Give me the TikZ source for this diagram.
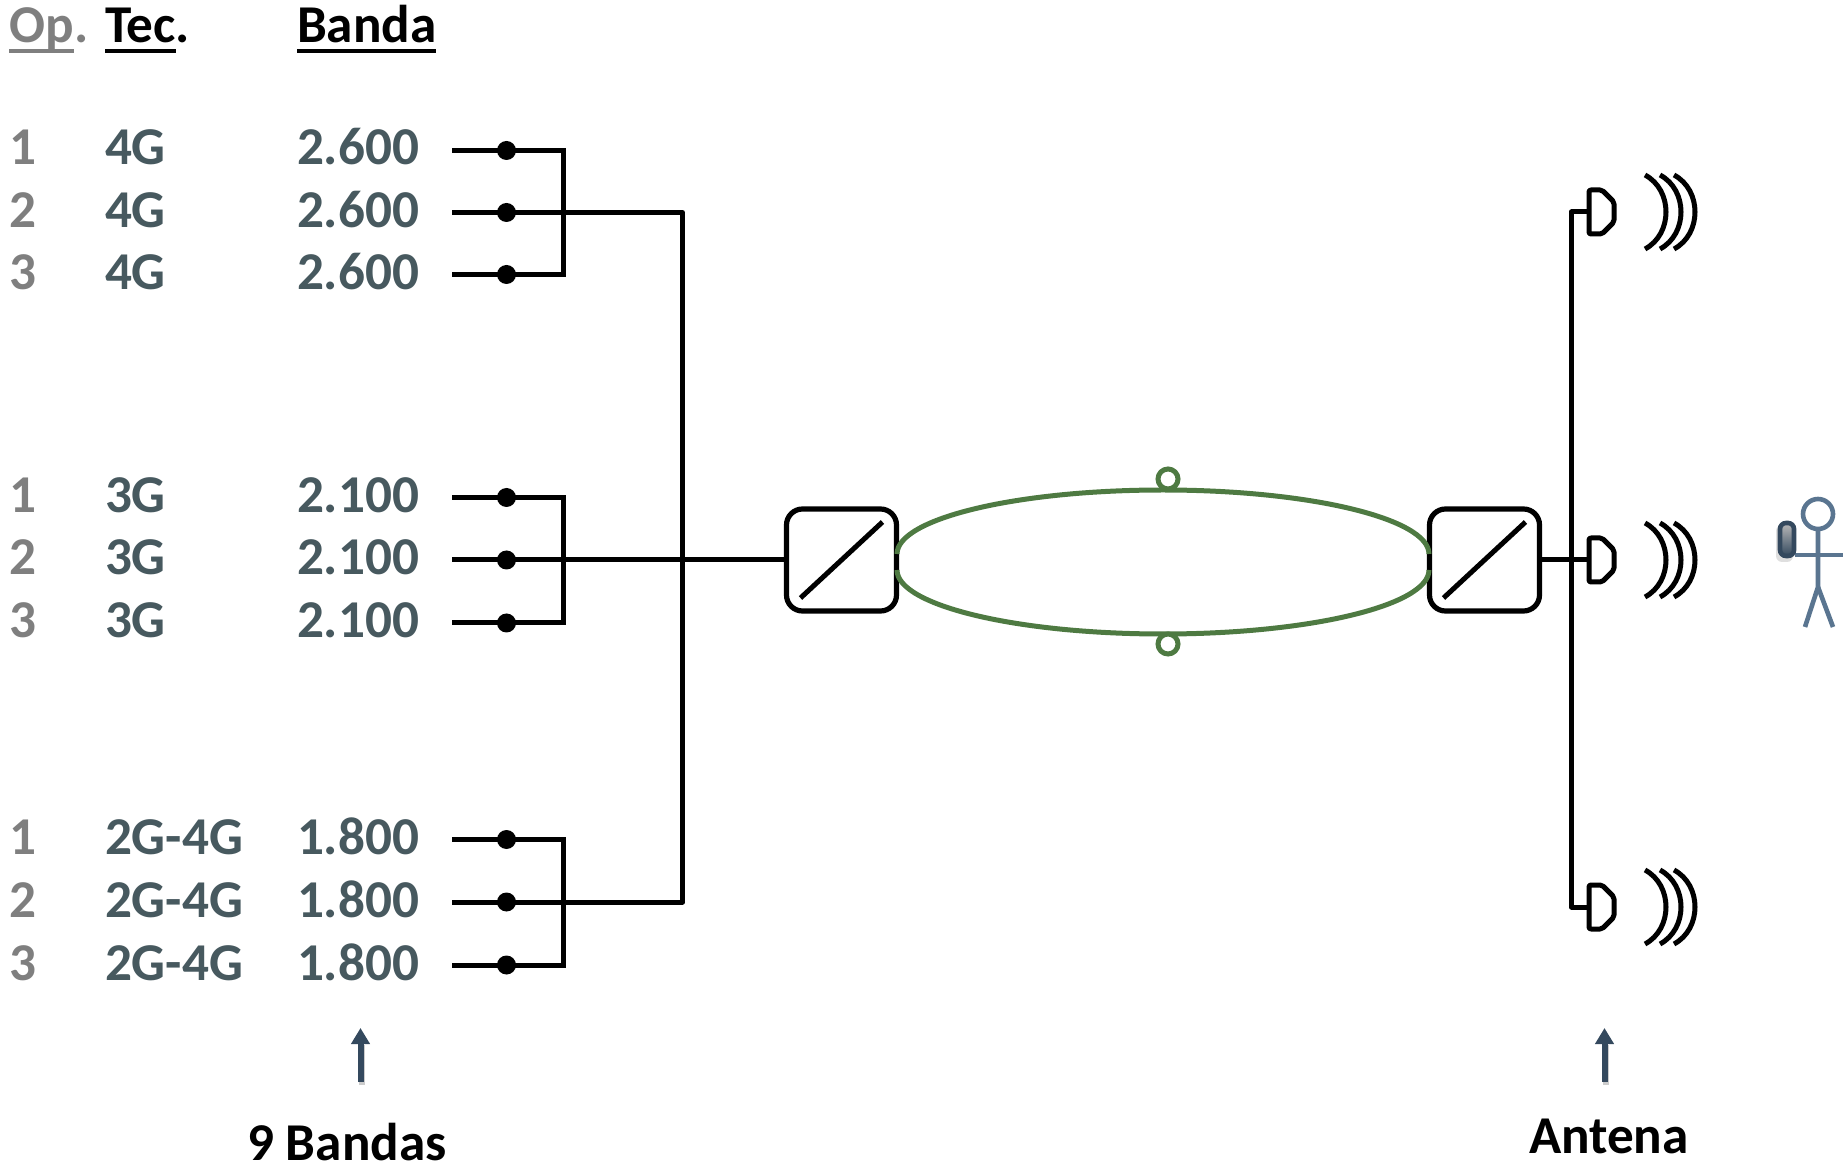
\documentclass[tikz,border=0pt]{standalone}
\usepackage{fontspec}
\setmainfont{Carlito}
\usetikzlibrary{arrows.meta,calc}
\definecolor{opgrey}{HTML}{7F7F7F}
\definecolor{slate}{HTML}{47595F}
\definecolor{ringgreen}{HTML}{4E7A42}
\definecolor{navy}{HTML}{34495E}
\definecolor{person}{HTML}{5A7590}
\newsavebox{\ulbox}
\newcommand{\ulined}[1]{\sbox{\ulbox}{#1}\leavevmode\rlap{\rule[-5pt]{\wd\ulbox}{2.2pt}}\usebox{\ulbox}}
\tikzset{
  x=0.5pt,y=-0.5pt,
  txt/.style={inner sep=0pt,outer sep=0pt,anchor=base west,font=\bfseries\fontsize{26.6}{30}\selectfont},
  optxt/.style={txt,text=opgrey},
  valtxt/.style={txt,text=slate},
  headtxt/.style={txt,text=black},
  wire/.style={draw=black,line width=2.5pt,line join=round},
  dotnode/.style={circle,fill=black,inner sep=0pt,outer sep=0pt,minimum size=9.5pt},
  convbox/.style={draw=black,line width=2.6pt,rounded corners=8pt,minimum width=55pt,minimum height=51pt,inner sep=0pt,outer sep=0pt,fill=white},
  ring/.style={draw=ringgreen,line width=2.5pt},
  ringdot/.style={circle,draw=ringgreen,line width=2.5pt,fill=white,minimum size=10pt,inner sep=0pt,outer sep=0pt},
  upnote/.style={draw=navy,line width=3pt,-{Triangle[length=8pt,width=9pt]}},
  fig/.style={draw=person,line width=2.3pt},
}
\newcommand{\rowlabels}[5]{%
  \node[optxt] (op#1) at (9.5,#2) {#3};
  \node[valtxt] (tec#1) at (105,#2) {#4};
  \node[valtxt] (band#1) at (297,#2) {#5};
}
\newcommand{\feed}[2]{%
  \coordinate (s#1) at (452,#2);
  \node[dotnode] (d#1) at (506.5,#2) {};
  \coordinate (j#1) at (563.5,#2);
  \draw[wire] (s#1) -- (d#1.center) -- (j#1);
}
\newcommand{\antennaicon}[2]{%
  \draw[wire,rounded corners=1pt] (1589,#2-22) -- (1602,#2-22) -- (1614,#2-10) -- (1614,#2+10) -- (1602,#2+22) -- (1589,#2+22) -- cycle;
  \coordinate (ant#1) at (1589,#2);
  \foreach \dx in {0,15,29}{
    \draw[wire,line join=miter] (1645+\dx,#2-37) .. controls (1673+\dx,#2-22) and (1673+\dx,#2+22) .. (1645+\dx,#2+37);
  }
}
\begin{document}
\begin{tikzpicture}
\useasboundingbox (0,0) rectangle (1843,1165);
% headers
\node[optxt] (hop) at (9.5,43) {\ulined{Op}.};
\node[headtxt] (htec) at (105,43) {\ulined{Tec}.};
\node[headtxt] (hband) at (297,43) {\ulined{Banda}};
% rows
\rowlabels{a1}{164.5}{1}{4G}{2.600}
\rowlabels{a2}{227.5}{2}{4G}{2.600}
\rowlabels{a3}{289.5}{3}{4G}{2.600}
\rowlabels{b1}{512.5}{1}{3G}{2.100}
\rowlabels{b2}{575}{2}{3G}{2.100}
\rowlabels{b3}{637.5}{3}{3G}{2.100}
\rowlabels{c1}{854}{1}{2G-4G}{1.800}
\rowlabels{c2}{917.5}{2}{2G-4G}{1.800}
\rowlabels{c3}{980}{3}{2G-4G}{1.800}
% feeds
\feed{a1}{150.5}\feed{a2}{212.5}\feed{a3}{274.5}
\feed{b1}{497.5}\feed{b2}{560}\feed{b3}{623}
\feed{c1}{839.5}\feed{c2}{902}\feed{c3}{965}
\draw[wire,line cap=rect] (ja1) -- (ja3);
\draw[wire,line cap=rect] (jb1) -- (jb3);
\draw[wire,line cap=rect] (jc1) -- (jc3);
% trunk
\coordinate (t1) at (682.5,212.5);
\coordinate (t3) at (682.5,902);
\draw[wire] (ja2) -- (t1) -- (t3) -- (jc2);
% converters
\node[convbox] (b1) at (841.5,560) {};
\node[convbox] (b2) at (1484.5,560) {};
\draw[wire] (jb2) -- (b1.west);
\draw[wire] ([xshift=-20.5pt,yshift=-19pt]b1.center) -- ([xshift=20.5pt,yshift=19pt]b1.center);
\draw[wire] ([xshift=-20.5pt,yshift=-19pt]b2.center) -- ([xshift=20.5pt,yshift=19pt]b2.center);
% ring
\coordinate (r1) at (897,554);
\coordinate (r2) at (897,570);
\draw[ring] (r1) arc[start angle=180,end angle=360,x radius=266,y radius=64];
\draw[ring] (r2) arc[start angle=180,end angle=0,x radius=266,y radius=64];
\node[ringdot] (rt) at (1168,479) {};
\node[ringdot] (rb) at (1168,644) {};
% antennas
\antennaicon{A}{212}
\antennaicon{B}{560}
\antennaicon{C}{907}
\coordinate (v1) at (1571.5,212);
\coordinate (v3) at (1571.5,907);
\draw[wire] (antA) -- (v1) -- (v3) -- (antC);
\draw[wire] (b2.east) -- (antB);
% person
\draw[fig] (1818,514) circle[radius=15];
\draw[fig] (1818,529) -- (1818,587) -- (1805,627);
\draw[fig] (1818,587) -- (1833,627);
\draw[fig] (1795,555) -- (1843,555);
\fill[gray,opacity=.25,rounded corners=3pt] (1776,525) rectangle (1793,562);
\shade[top color=gray!55,bottom color=navy,rounded corners=3pt,draw=navy,line width=2.3pt] (1780,523) rectangle (1794,556);
% notes
\coordinate (n1s) at (360.5,1082);
\coordinate (n1e) at (360.5,1028);
\coordinate (n2s) at (1604.5,1082);
\coordinate (n2e) at (1604.5,1028);
\draw[gray!40,line width=3pt] ([xshift=.5pt,yshift=-1.5pt]n1s) -- ([xshift=.5pt,yshift=-1.5pt,yshift=20pt]n1s);
\draw[gray!40,line width=3pt] ([xshift=.5pt,yshift=-1.5pt]n2s) -- ([xshift=.5pt,yshift=-1.5pt,yshift=20pt]n2s);
\draw[upnote] (n1s) -- (n1e);
\draw[upnote] (n2s) -- (n2e);
\node[headtxt] (nine) at (247,1160) {9 Bandas};
\node[headtxt] (ant) at (1529,1153) {Antena};
\end{tikzpicture}
\end{document}
